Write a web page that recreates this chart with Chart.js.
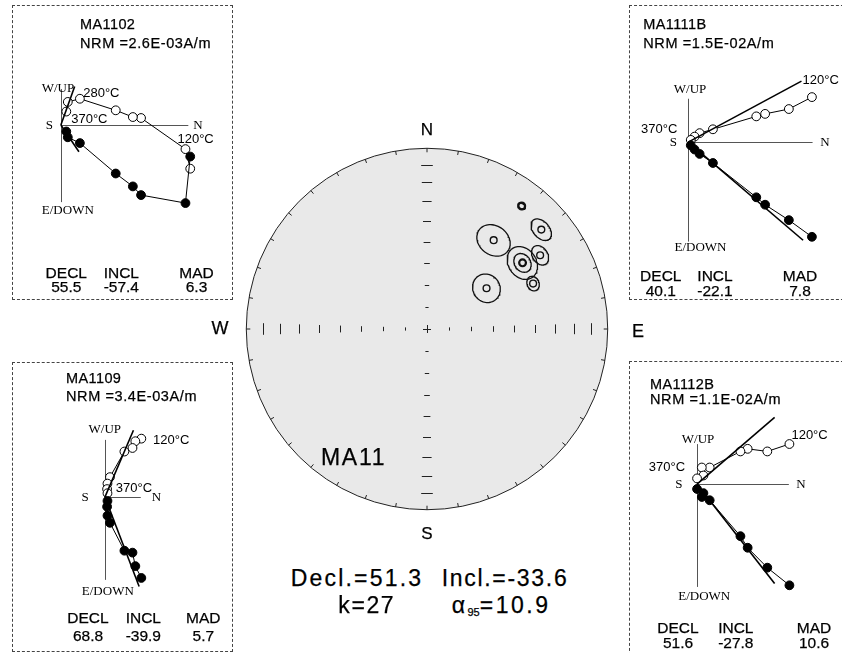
<!DOCTYPE html>
<html>
<head>
<meta charset="utf-8">
<title>MA11</title>
<script src="https://cdn.jsdelivr.net/npm/chart.js@4.4.1/dist/chart.umd.min.js"></script>
<style>
  html, body { margin: 0; padding: 0; background: #fff; }
  #page { position: relative; width: 842px; height: 653px; overflow: hidden; background: #fff; }
  .box { position: absolute; border: 1px dashed #444; box-sizing: border-box; }
  canvas { position: absolute; }
  .t { position: absolute; white-space: nowrap; line-height: 1; color: #000;
       font-family: "Liberation Sans", Arial, sans-serif; -webkit-text-stroke: 0.25px #000; }
  .t sub { font-size: 11px; position: relative; top: 3px; vertical-align: baseline; line-height: 0; letter-spacing: 0; }
</style>
</head>
<body>
<div id="page"></div>
<script>
// --- site directions on the net (upper hemisphere, equal area) ---
const siteDecl = [37.6, 49.0, 36.9, 56.9, 55.3, 66.8, 55.6];
const siteIncl = [-15.2, -17.3, -38.5, -26.2, -35.9, -36.3, -57.2];
const siteA95 = [1.5, 4.5, 7.2, 4.0, 4.0, 3.0, 6.3];
// outer ring drawn round the 5th direction
const ringDecl = 55.3;
const ringIncl = -35.9;
const ringA95 = 7.0;

// --- locality mean printed under the net ---
const meanDecl = '51.3';
const meanIncl = '-33.6';
const meanK = '27';
const meanA95 = '10.9';

// --- demagnetisation steps (N, E, Down; arbitrary units) ---
const ma1102North = [136, 131, 84.3, 75.7, 57.7, 20, 7.3, 5.7];
const ma1102East = [32.7, 81, 72.7, 63.7, 50.3, 18.7, 12.7, 6.7];
const ma1102Down = [45.3, 25, -7.3, -8.3, -15.3, -27.3, -24, -14];
const ma1102Steps = ['', '120°C', '', '', '', '280°C', '', '370°C'];

const ma1111bNorth = [130.3, 106, 81, 71.7, 26, 12, 6.7, 2.7];
const ma1111bEast = [98.3, 81, 65, 57.3, 21.7, 12.3, 7.7, 3.3];
const ma1111bDown = [-46.7, -34.3, -29.3, -26.7, -13.3, -9.3, -5.7, -2.3];
const ma1111bSteps = ['120°C', '', '', '', '', '', '', '370°C'];

const ma1109North = [38.3, 32, 29, 20.5, 5.3, 2.7, 2.3, 2.7];
const ma1109East = [84, 71.7, 57.7, 55.7, 26.7, 19.3, 10, 4];
const ma1109Down = [-60.7, -58, -51, -47.3, -20.7, -14, -8.3, -4];
const ma1109Steps = ['120°C', '', '', '', '', '', '370°C', ''];

const ma1112bNorth = [97.3, 74, 53.3, 45.7, 13.3, 5, 6.7, 0];
const ma1112bEast = [105, 86.7, 66, 54, 16.7, 13.3, 9.3, 5];
const ma1112bDown = [-41.7, -34, -36.7, -34, -17.3, -17.3, -9, -6];
const ma1112bSteps = ['120°C', '', '', '', '', '370°C', '', ''];

const sampleNames = ['MA1102', 'MA1111B', 'MA1109', 'MA1112B'];
const sampleNrm = ['2.6E-03', '1.5E-02', '3.4E-03', '1.1E-02'];
const fitDecl = [55.5, 40.1, 68.8, 51.6];
const fitIncl = [-57.4, -22.1, -39.9, -27.8];
const fitMad = [6.3, 7.8, 5.7, 10.6];

const RAD = Math.PI / 180;
const page = document.getElementById('page');

function put(html, x, y, size, align, spacing) {
    const d = document.createElement('div');
    d.className = 't';
    d.innerHTML = html;
    d.style.left = x + 'px';
    d.style.top = y + 'px';
    d.style.fontSize = size + 'px';
    if (spacing) d.style.letterSpacing = spacing + 'px';
    d.style.transform = align === 'center' ? 'translate(-50%,-50%)'
        : align === 'right' ? 'translate(-100%,-50%)' : 'translate(0,-50%)';
    page.appendChild(d);
}

// --- equal area projection helpers ---
function project(dec, inc) {
    const r = Math.SQRT2 * Math.sin((90 - Math.abs(inc)) * RAD / 2);
    return { x: r * Math.sin(dec * RAD), y: r * Math.cos(dec * RAD) };
}

function confidenceCircle(dec, inc, a95) {
    const v = [Math.cos(inc * RAD) * Math.cos(dec * RAD), Math.cos(inc * RAD) * Math.sin(dec * RAD), Math.sin(inc * RAD)];
    let u1 = [v[1], -v[0], 0];
    const n1 = Math.hypot(u1[0], u1[1]);
    u1 = [u1[0] / n1, u1[1] / n1, 0];
    const u2 = [v[1] * u1[2] - v[2] * u1[1], v[2] * u1[0] - v[0] * u1[2], v[0] * u1[1] - v[1] * u1[0]];
    const ca = Math.cos(a95 * RAD), sa = Math.sin(a95 * RAD);
    const pts = [];
    for (let k = 0; k <= 72; k++) {
        const p = k * 5 * RAD;
        const w = [0, 1, 2].map(j => ca * v[j] + sa * (Math.cos(p) * u1[j] + Math.sin(p) * u2[j]));
        const i = Math.asin(Math.max(-1, Math.min(1, w[2]))) / RAD;
        const d = Math.atan2(w[1], w[0]) / RAD;
        pts.push(project(d, i));
    }
    return pts;
}

// --- stereonet ---
const netPlugin = {
    id: 'net',
    beforeDatasetsDraw(chart) {
        const { ctx, scales: { x, y } } = chart;
        const cx = x.getPixelForValue(0), cy = y.getPixelForValue(0);
        const R = x.getPixelForValue(1) - cx;
        ctx.save();
        ctx.beginPath();
        ctx.arc(cx, cy, R, 0, 2 * Math.PI);
        ctx.fillStyle = '#e9e9e9';
        ctx.fill();
        ctx.lineWidth = 1;
        ctx.strokeStyle = '#222';
        ctx.stroke();

        ctx.beginPath();
        for (let a = 0; a < 360; a += 10) {
            const t = a * RAD;
            ctx.moveTo(cx + R * Math.sin(t), cy - R * Math.cos(t));
            ctx.lineTo(cx + (R - 4) * Math.sin(t), cy - (R - 4) * Math.cos(t));
        }
        // 10 degree inclination marks along the axes
        for (let i = 1; i <= 8; i++) {
            const r = x.getPixelForValue(Math.SQRT2 * Math.sin(i * 5 * RAD)) - cx;
            const h = 1 + 0.6 * i;
            [-1, 1].forEach(s => {
                const px = Math.round(cx + s * r) + 0.5;
                ctx.moveTo(px, cy - h); ctx.lineTo(px, cy + h);
                const py = Math.round(cy + s * r) + 0.5;
                ctx.moveTo(cx - h, py); ctx.lineTo(cx + h, py);
            });
        }
        ctx.moveTo(cx - 4, Math.round(cy) + 0.5); ctx.lineTo(cx + 4, Math.round(cy) + 0.5);
        ctx.moveTo(Math.round(cx) + 0.5, cy - 4); ctx.lineTo(Math.round(cx) + 0.5, cy + 4);
        ctx.stroke();
        ctx.restore();
    }
};

function renderNet() {
    const cv = document.createElement('canvas');
    cv.width = 400; cv.height = 400;
    cv.style.left = '227px'; cv.style.top = '129px';
    page.appendChild(cv);
    const lim = 200 / 186.5;

    const ellipses = siteDecl.map((d, i) => ({
        data: confidenceCircle(d, siteIncl[i], siteA95[i]),
        showLine: true, borderColor: '#111', borderWidth: 1.3, pointRadius: 0, tension: 0
    }));
    ellipses.push({
        data: confidenceCircle(ringDecl, ringIncl, ringA95),
        showLine: true, borderColor: '#111', borderWidth: 1.3, pointRadius: 0, tension: 0
    });

    new Chart(cv.getContext('2d'), {
        type: 'scatter',
        data: {
            datasets: [...ellipses, {
                data: siteDecl.map((d, i) => project(d, siteIncl[i])),
                pointRadius: 3.4,
                pointBorderWidth: [2.2, 1.4, 1.4, 1.4, 2.2, 1.4, 1.4],
                pointBorderColor: '#111',
                pointBackgroundColor: 'rgba(0,0,0,0)'
            }]
        },
        options: {
            responsive: false,
            animation: false,
            events: [],
            layout: { padding: 0 },
            plugins: { legend: { display: false }, tooltip: { enabled: false } },
            scales: {
                x: { type: 'linear', display: false, min: -lim, max: lim },
                y: { type: 'linear', display: false, min: -lim, max: lim }
            }
        },
        plugins: [netPlugin]
    });

    put('N', 427, 129, 17, 'center');
    put('S', 427, 532.5, 17, 'center');
    put('W', 220, 328, 18, 'center');
    put('E', 638, 330.5, 18, 'center');
    put('MA11', 321, 457, 23, 'left', 1.7);
    put('Decl.=' + meanDecl, 290.7, 577.7, 23, 'left', 2.2);
    put('Incl.=' + meanIncl, 441.7, 577.7, 23, 'left', 1.7);
    put('k=' + meanK, 338.3, 605, 23, 'left', 1.6);
    put('&alpha;<sub>95</sub>=' + meanA95, 451.7, 605, 23, 'left', 2.5);
}

// --- Zijderveld panels ---
const panels = [
    { north: ma1102North, east: ma1102East, down: ma1102Down, steps: ma1102Steps,
      box: [12, 5, 221, 295], origin: [57.7, 124], axis: { n: 134, up: 37.3, down: 80 }, fitLen: [19, 14.5],
      lab: { s: 8.4, n: 5, up: [-3.6, -1], dn: [6.3, 8] },
      temp: { 1: [-8, -9.5, 'left'], 5: [3.3, -5.7, 'left'], 7: [4.9, 7.5, 'left'] },
      title: [80, 24, 43.3], statX: [66.3, 121.3, 196.5], statY: [272.7, 287.3] },
    { north: ma1111bNorth, east: ma1111bEast, down: ma1111bDown, steps: ma1111bSteps,
      box: [629, 5, 220, 295], origin: [685.7, 141.7], axis: { n: 131, up: 45, down: 103.3 }, fitLen: [121, 119.3],
      lab: { s: 11.4, n: 7.6, up: [1.6, -9.4], dn: [12, 5.7] },
      temp: { 0: [-9.3, -16.3, 'left'], 7: [-13.4, -10.2, 'right'] },
      title: [643.3, 24, 43.3], statX: [660.8, 715, 800], statY: [276, 290.7] },
    { north: ma1109North, east: ma1109East, down: ma1109Down, steps: ma1109Steps,
      box: [12, 362, 221, 290], origin: [104, 496.7], axis: { n: 37.7, up: 59.4, down: 86 }, fitLen: [36, 30],
      lab: { s: 16.7, n: 11, up: [-0.7, -10.6], dn: [2.3, 11.6] },
      temp: { 0: [11.7, 1.7, 'left'], 6: [8.7, -0.7, 'left'] },
      title: [66, 378.3, 395.7], statX: [88, 143.3, 203.3], statY: [618.3, 636] },
    { north: ma1112bNorth, east: ma1112bEast, down: ma1112bDown, steps: ma1112bSteps,
      box: [629, 361, 220, 300], origin: [695, 483.3], axis: { n: 96.7, up: 41.6, down: 106.7 }, fitLen: [81.7, 81.7],
      lab: { s: 15, n: 7.3, up: [0.5, -4.4], dn: [6.7, 10] },
      temp: { 0: [2, -8.8, 'left'], 5: [-16.7, 0.2, 'right'] },
      title: [650, 384, 399.3], statX: [678, 735.8, 814], statY: [628.3, 642.7] }
];

const zAxesPlugin = p => ({
    id: 'zaxes',
    beforeDatasetsDraw(chart) {
        const { ctx, scales: { x, y } } = chart;
        const x0 = Math.round(x.getPixelForValue(0)) + 0.5, y0 = Math.round(y.getPixelForValue(0)) + 0.5;
        const xN = x.getPixelForValue(p.axis.n);
        const yUp = y.getPixelForValue(-p.axis.up), yDn = y.getPixelForValue(p.axis.down);
        ctx.save();
        ctx.strokeStyle = '#555';
        ctx.lineWidth = 1;
        ctx.beginPath();
        ctx.moveTo(x0, y0); ctx.lineTo(xN, y0);
        ctx.moveTo(x0, yUp); ctx.lineTo(x0, yDn);
        ctx.stroke();
        ctx.fillStyle = '#000';
        ctx.font = '13px "Liberation Serif", "Times New Roman", serif';
        ctx.textBaseline = 'middle';
        ctx.textAlign = 'right'; ctx.fillText('S', x0 - p.lab.s, y0);
        ctx.textAlign = 'left'; ctx.fillText('N', xN + p.lab.n, y0);
        ctx.textAlign = 'center';
        ctx.fillText('W/UP', x0 + p.lab.up[0], yUp + p.lab.up[1]);
        ctx.fillText('E/DOWN', x0 + p.lab.dn[0], yDn + p.lab.dn[1]);
        ctx.restore();
    },
    afterDatasetsDraw(chart) {
        const { ctx, scales: { x, y } } = chart;
        ctx.save();
        ctx.fillStyle = '#000';
        ctx.font = '13px "Liberation Sans", Arial, sans-serif';
        ctx.textBaseline = 'middle';
        Object.entries(p.temp).forEach(([i, [dx, dy, align]]) => {
            const px = x.getPixelForValue(p.north[i]), py = y.getPixelForValue(p.down[i]);
            ctx.textAlign = align;
            ctx.fillText(p.steps[i], px + dx, py + dy);
        });
        ctx.restore();
    }
});

function renderPanel(p, k) {
    const [bl, bt, bw, bh] = p.box;
    const frame = document.createElement('div');
    frame.className = 'box';
    Object.assign(frame.style, { left: bl + 'px', top: bt + 'px', width: bw + 'px', height: bh + 'px' });
    page.appendChild(frame);

    const cw = Math.min(bw, 842 - bl), ch = Math.min(bh, 653 - bt);
    const cv = document.createElement('canvas');
    cv.width = cw; cv.height = ch;
    cv.style.left = bl + 'px'; cv.style.top = bt + 'px';
    page.appendChild(cv);
    const ox = p.origin[0] - bl, oy = p.origin[1] - bt;

    // PCA line from the listed decl / incl
    const dec = fitDecl[k] * RAD, inc = fitIncl[k] * RAD;
    const fn = Math.cos(inc) * Math.cos(dec), fe = Math.cos(inc) * Math.sin(dec), fd = Math.sin(inc);
    const hFit = [{ x: 0, y: 0 }, { x: p.fitLen[0], y: p.fitLen[0] * fe / fn }];
    const vFit = [{ x: 0, y: 0 }, { x: p.fitLen[1], y: p.fitLen[1] * fd / fn }];

    const line = { showLine: true, borderColor: '#000', tension: 0 };
    new Chart(cv.getContext('2d'), {
        type: 'scatter',
        data: {
            datasets: [
                { ...line, data: hFit, borderWidth: 1.6, pointRadius: 0 },
                { ...line, data: vFit, borderWidth: 1.6, pointRadius: 0 },
                { ...line, data: p.north.map((n, i) => ({ x: n, y: p.east[i] })), borderWidth: 1,
                  pointRadius: 4.4, pointBorderWidth: 1, pointBackgroundColor: '#000', pointBorderColor: '#000' },
                { ...line, data: p.north.map((n, i) => ({ x: n, y: p.down[i] })), borderWidth: 1,
                  pointRadius: 4.4, pointBorderWidth: 1, pointBackgroundColor: '#fff', pointBorderColor: '#000' }
            ]
        },
        options: {
            responsive: false,
            animation: false,
            events: [],
            layout: { padding: 0 },
            plugins: { legend: { display: false }, tooltip: { enabled: false } },
            scales: {
                x: { type: 'linear', display: false, min: -ox, max: cw - ox },
                y: { type: 'linear', display: false, reverse: true, min: -oy, max: ch - oy }
            }
        },
        plugins: [zAxesPlugin(p)]
    });

    put(sampleNames[k], p.title[0], p.title[1], 14.5, 'left', 0.4);
    put('NRM =' + sampleNrm[k] + 'A/m', p.title[0], p.title[2], 14.5, 'left', 0.6);
    ['DECL', 'INCL', 'MAD'].forEach((h, j) => put(h, p.statX[j], p.statY[0], 15.5, 'center'));
    [fitDecl[k].toFixed(1), fitIncl[k].toFixed(1), fitMad[k].toFixed(1)]
        .forEach((v, j) => put(v, p.statX[j], p.statY[1], 15.5, 'center'));
}

document.addEventListener('DOMContentLoaded', () => {
    renderNet();
    panels.forEach(renderPanel);
});
</script>
</body>
</html>
